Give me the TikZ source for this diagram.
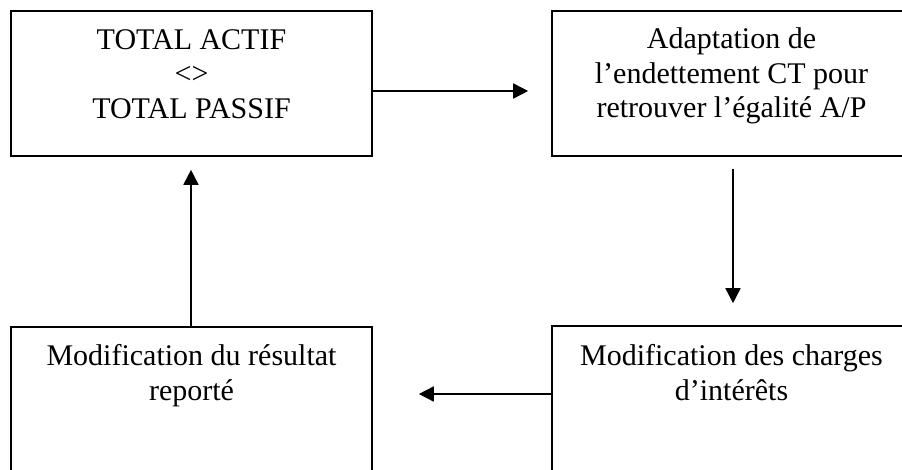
\documentclass[tikz,border=0pt]{standalone}
\usepackage{fontspec}
\setmainfont{Liberation Serif}
\usetikzlibrary{arrows.meta}
\begin{document}
\begin{tikzpicture}[x=1pt,y=-1pt,
  box/.style={draw=black,line width=1.6pt,rectangle,inner sep=0pt},
  txt/.style={inner sep=0pt,align=center,font=\fontsize{30}{34.5}\selectfont},
  arr/.style={line width=1.6pt,-{Triangle[length=15pt,width=15pt]}}]
\useasboundingbox (0,0) rectangle (902,470);
\clip (0,0) rectangle (902,470);
\fill[white] (0,0) rectangle (902,470);
% boxes
\node[box,minimum width=361pt,minimum height=145pt] (tl) at (191.5,83.5) {};
\node[box,minimum width=359pt,minimum height=145pt] (tr) at (731.5,83.5) {};
\node[box,minimum width=361pt,minimum height=200pt] (bl) at (191.5,427) {};
\node[box,minimum width=359pt,minimum height=200pt] (br) at (731.5,426) {};
% texts
\node[txt,anchor=north] (tlt) at (191.5,29) {TOTAL ACTIF\\<>\\TOTAL PASSIF};
\node[txt,anchor=north] (trt) at (731.5,27.5) {Adaptation de\\l’endettement CT pour\\retrouver l’égalité A/P};
\node[txt,anchor=north] (blt) at (191.5,344.5) {Modification du résultat\\reporté};
\node[txt,anchor=north] (brt) at (731.5,344.5) {Modification des charges\\d’intérêts};
% connectors
\draw[arr,shorten >=23pt] ([yshift=-7.5pt]tl.east) -- ([yshift=-7.5pt]tl.east -| tr.west);
\draw[arr,shorten <=12pt,shorten >=22pt] (tr.south -| 733,0) -- (br.north -| 733,0);
\draw[arr,shorten >=46pt] (br.west |- 0,394) -- (bl.east |- 0,394);
\draw[arr,shorten >=13pt] (bl.north -| 191,0) -- (tl.south -| 191,0);
\end{tikzpicture}
\end{document}
